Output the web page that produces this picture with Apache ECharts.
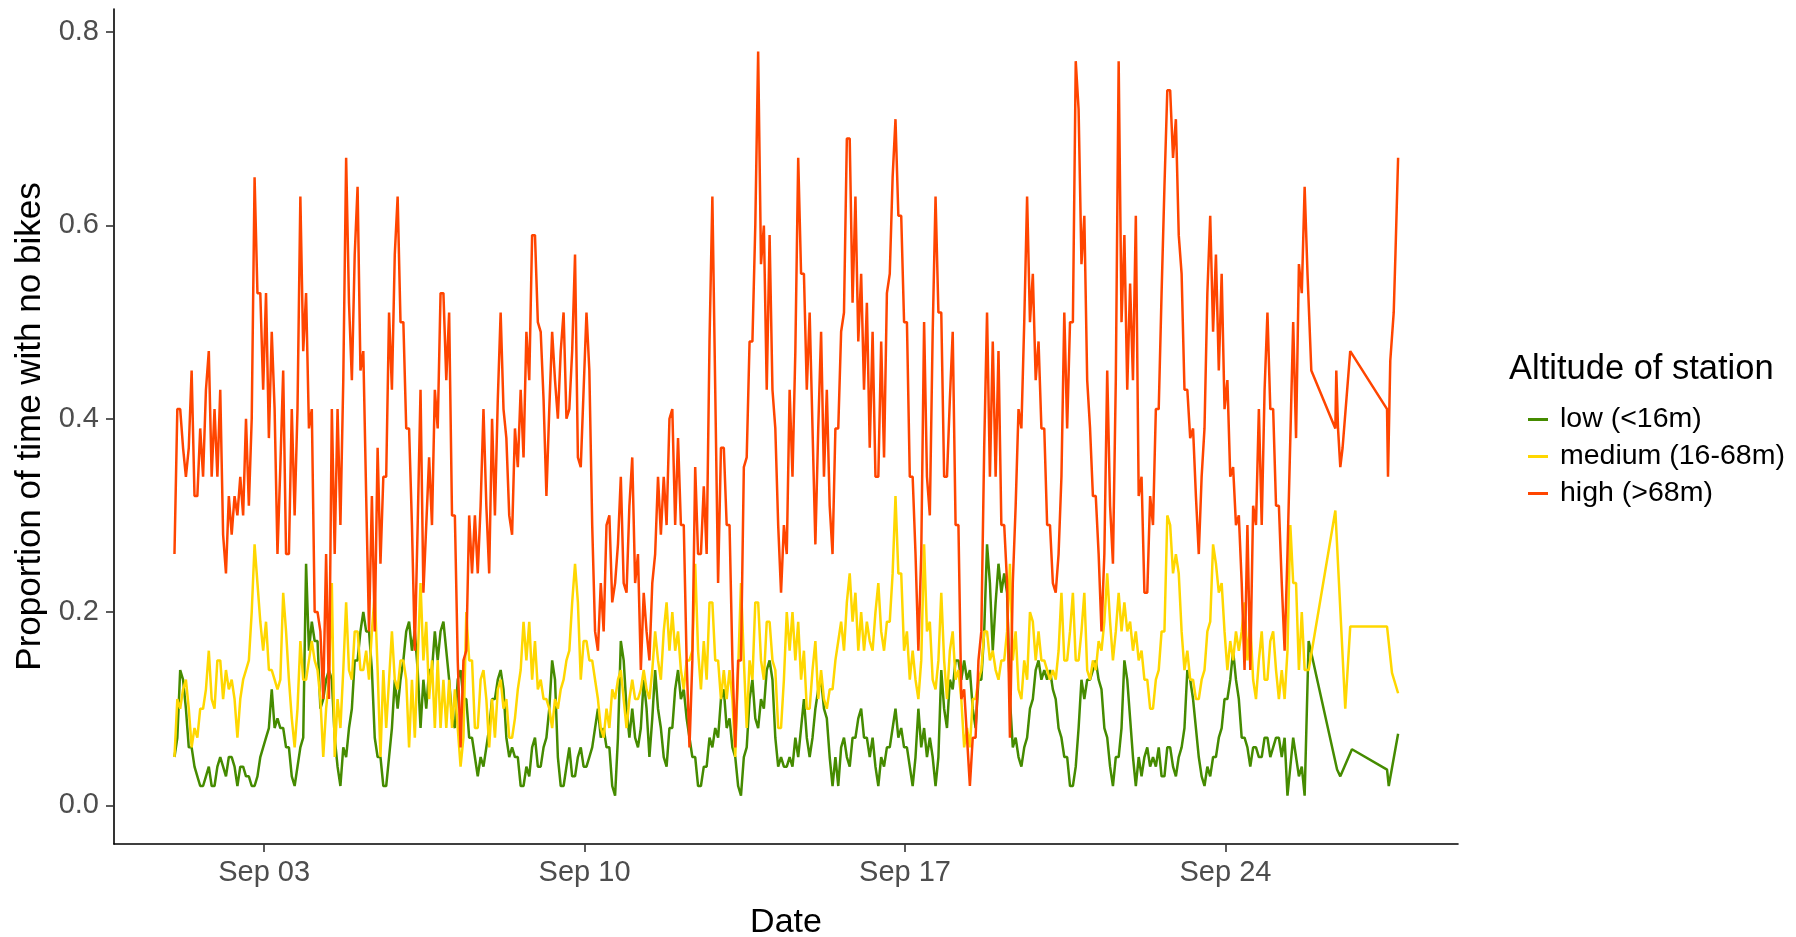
<!DOCTYPE html>
<html>
<head>
<meta charset="utf-8">
<script src="https://cdn.jsdelivr.net/npm/echarts/dist/echarts.min.js"></script>
<style>
  html, body { margin: 0; padding: 0; background: #fff; }
  #chart { width: 1796px; height: 937px; }
</style>
</head>
<body>
<div id="chart"></div>
<script>
// hours counted from Sep 01 00:00, a reading every 1.5 hours from 01:00
var startHour = 1;
var stepHours = 1.5;

var seriesNames = ["low (<16m)", "medium (16-68m)", "high (>68m)"];
var seriesColors = ["#458B00", "#FFD700", "#FF4500"];

var lowValues = [
  .05,.07, .14,.13, .10,.06, .06,.04, .03,.02, .02,.03, .04,.02, .02,.04, .05,.04, .03,.05,
  .05,.04, .02,.04, .04,.03, .03,.02, .02,.03, .05,.06, .07,.08, .12,.08, .09,.08, .08,.06,
  .06,.03, .02,.04, .06,.07, .25,.16, .19,.17, .17,.10, .11,.13, .14,.13,
  .07,.04, .02,.06, .05,.08, .10,.15, .15,.18, .20,.18, .18,.14, .07,.05, .05,.02, .02,.05,
  .08,.13, .10,.13, .15,.18, .19,.16, .18,.14, .08,.13, .10,.14, .14,.18, .15,.18, .19,.16,
  .13,.09, .08,.13, .14,.11, .11,.07, .07,.05, .03,.05, .04,.06,
  .08,.11, .11,.13, .14,.12, .07,.05, .06,.05, .05,.02, .02,.04, .03,.06, .07,.04, .04,.06,
  .07,.10, .15,.13, .05,.02, .02,.04, .06,.03, .03,.05, .06,.04, .04,.05, .06,.08, .10,.07,
  .08,.06, .06,.02, .01,.07, .17,.15, .10,.07, .10,.07, .06,.08,
  .13,.10, .05,.09, .14,.10, .08,.05, .04,.08, .08,.12, .14,.11, .12,.09, .07,.05, .05,.02,
  .02,.04, .04,.07, .06,.08, .07,.11, .12,.08, .09,.06, .05,.02, .01,.05, .06,.11, .13,.09,
  .08,.11, .10,.14, .15,.13, .07,.04, .05,.04, .04,.05, .04,.07,
  .05,.08, .11,.07, .05,.07, .10,.12, .13,.10, .09,.05, .02,.05, .02,.06, .07,.05, .04,.07,
  .07,.09, .10,.07, .07,.05, .07,.04, .02,.05, .04,.06, .06,.08, .10,.07, .08,.06, .06,.04,
  .02,.05, .10,.06, .08,.05, .07,.05, .02,.05, .14,.10, .08,.13,
  .12,.15, .15,.13, .15,.13, .14,.10, .08,.13, .13,.18, .27,.23, .16,.21, .25,.22, .24,.22,
  .11,.06, .07,.05, .04,.06, .07,.10, .11,.14, .15,.13, .14,.13, .14,.12, .11,.08, .07,.05,
  .05,.02, .02,.04, .08,.13, .11,.13, .13,.14, .15,.13, .12,.08,
  .07,.04, .02,.05, .05,.08, .15,.13, .09,.05, .02,.05, .03,.05, .06,.04, .05,.04, .06,.03,
  .03,.06, .06,.04, .03,.05, .06,.08, .14,.13, .11,.08, .05,.03, .02,.04, .03,.05, .05,.07,
  .08,.11, .11,.13, .16,.13, .11,.07, .07,.06, .04,.06, .06,.05,
  .05,.07, .07,.05, .06,.07, .07,.05, .07,.01, .04,.07, .05,.03, .04,.01
];
var mediumValues = [
  .05,.11, .10,.12, .13,.10, .06,.08, .07,.10, .10,.12, .16,.11, .10,.15, .15,.11, .14,.12,
  .13,.11, .07,.11, .13,.14, .15,.20, .27,.23, .19,.16, .19,.14, .14,.13, .12,.13, .22,.18,
  .13,.09, .06,.10, .17,.13, .13,.15, .17,.15, .14,.11, .05,.10, .13,.23,
  .05,.11, .08,.14, .21,.14, .13,.18, .18,.14, .14,.16, .13,.18, .22,.14, .05,.14, .08,.13,
  .18,.13, .12,.15, .15,.13, .06,.13, .07,.15, .23,.15, .19,.11, .15,.08, .15,.08, .13,.08,
  .13,.08, .12,.08, .04,.07, .20,.15, .15,.08, .08,.13, .14,.11,
  .06,.11, .07,.12, .13,.10, .11,.07, .07,.09, .12,.14, .19,.15, .19,.13, .17,.12, .13,.11,
  .11,.10, .08,.11, .10,.12, .13,.15, .16,.21, .25,.21, .13,.17, .17,.15, .15,.13, .11,.08,
  .07,.10, .08,.12, .11,.13, .14,.11, .08,.11, .13,.11, .11,.12,
  .14,.12, .11,.14, .18,.15, .13,.18, .21,.16, .20,.16, .18,.14, .12,.15, .15,.16, .25,.16,
  .12,.17, .13,.21, .21,.15, .15,.11, .14,.11, .14,.11, .05,.14, .23,.15, .08,.15, .13,.21,
  .21,.15, .13,.19, .19,.15, .14,.08, .08,.13, .20,.16, .20,.15,
  .19,.13, .16,.10, .10,.14, .17,.11, .14,.11, .10,.12, .12,.15, .17,.19, .16,.21, .24,.19,
  .22,.16, .20,.16, .19,.17, .16,.20, .23,.18, .16,.19, .19,.24, .32,.24, .24,.16, .18,.13,
  .16,.13, .11,.15, .27,.18, .19,.13, .12,.15, .22,.15, .11,.16,
  .18,.13, .14,.11, .06,.08, .06,.11, .11,.13, .14,.18, .18,.15, .16,.14, .13,.15, .15,.18,
  .25,.15, .18,.12, .11,.15, .13,.20, .19,.15, .18,.15, .15,.14, .13,.14, .13,.16, .22,.15,
  .15,.18, .22,.15, .15,.18, .22,.14, .13,.15, .14,.17, .16,.19,
  .24,.19, .15,.18, .22,.18, .21,.18, .19,.16, .18,.15, .16,.13, .13,.10, .10,.13, .14,.18,
  .18,.30, .29,.24, .26,.24, .18,.14, .16,.13, .13,.11, .11,.13, .14,.18, .19,.27, .25,.22,
  .23,.18, .14,.17, .15,.18, .16,.18, .21,.15, .19,.13, .11,.15,
  .18,.13, .13,.17, .18,.14, .11,.14, .11,.16, .29,.23, .23,.14, .20,.14
];
var highValues = [
  .26,.41, .41,.37, .34,.37, .45,.32, .32,.39, .34,.43, .47,.34, .41,.34, .43,.28, .24,.32,
  .28,.32, .30,.34, .30,.40, .31,.40, .65,.53, .53,.43, .53,.38, .49,.41, .26,.35, .45,.26,
  .26,.41, .30,.41, .63,.47, .53,.39, .41,.20, .20,.18, .11,.26, .11,.41,
  .26,.41, .29,.44, .67,.52, .44,.57, .64,.45, .47,.32, .18,.32, .18,.37, .25,.34, .34,.51,
  .43,.57, .63,.50, .50,.39, .39,.29, .16,.29, .43,.22, .29,.36, .29,.43, .39,.53, .53,.44,
  .51,.30, .30,.15, .06,.15, .16,.30, .24,.30, .24,.31, .41,.31,
  .24,.40, .30,.42, .51,.41, .38,.30, .28,.39, .35,.43, .36,.49, .44,.59, .59,.50, .49,.42,
  .32,.41, .49,.44, .40,.47, .51,.40, .41,.47, .57,.36, .35,.43, .51,.45, .29,.18, .16,.23,
  .18,.29, .30,.21, .23,.27, .34,.23, .22,.31, .36,.23, .26,.14,
  .22,.18, .15,.23, .26,.34, .28,.34, .29,.40, .41,.29, .38,.29, .29,.15, .06,.15, .35,.26,
  .26,.33, .26,.48, .63,.43, .23,.37, .37,.29, .29,.15, .06,.15, .15,.35, .36,.48, .48,.60,
  .78,.56, .60,.43, .59,.43, .39,.29, .22,.29, .26,.43, .34,.47,
  .67,.55, .55,.43, .51,.39, .27,.39, .49,.34, .43,.31, .26,.39, .39,.49, .51,.69, .69,.52,
  .63,.48, .55,.43, .52,.37, .49,.34, .34,.48, .36,.53, .55,.65, .71,.61, .61,.50, .50,.34,
  .34,.26, .16,.26, .50,.34, .30,.49, .63,.51, .51,.34, .34,.42,
  .49,.29, .29,.11, .12,.07, .02,.07, .07,.15, .18,.37, .51,.34, .48,.34, .47,.29, .29,.23,
  .07,.23, .31,.41, .39,.50, .63,.50, .55,.44, .48,.39, .39,.29, .29,.23, .22,.26, .34,.51,
  .39,.50, .50,.77, .72,.56, .61,.44, .39,.32, .32,.26, .18,.26,
  .45,.31, .25,.44, .77,.50, .59,.43, .54,.44, .61,.32, .34,.22, .22,.32, .29,.41, .41,.53,
  .64,.74, .74,.67, .71,.59, .55,.43, .43,.38, .39,.32, .26,.34, .39,.53, .61,.49, .57,.45,
  .55,.41, .44,.34, .35,.29, .30,.23, .14,.29, .14,.31, .29,.41,
  .29,.43, .51,.41, .41,.31, .31,.23, .16,.26, .38,.50, .38,.56, .53,.64
];

// last days are sparse: irregular readings
var lowTailHours = [595.6, 610.5, 612.2, 618.3, 636.7, 637.6, 642.5];
var lowTailValues = [0.17, 0.037, 0.03, 0.058, 0.037, 0.02, 0.074];
var mediumTailHours = [595.6, 609.6, 614.8, 617.4, 636.7, 639.3, 642.5];
var mediumTailValues = [0.14, 0.305, 0.10, 0.185, 0.185, 0.137, 0.116];
var highTailHours = [595, 597, 609.6, 610.1, 611, 612.2, 613.4, 617.4, 636.7, 637.2, 638.4, 640.2, 641.1, 642.5];
var highTailValues = [0.55, 0.45, 0.39, 0.45, 0.39, 0.35, 0.37, 0.47, 0.41, 0.34, 0.46, 0.51, 0.57, 0.67];

var xTickHours = [48, 216, 384, 552];
var yTicks = [0, 0.2, 0.4, 0.6, 0.8];

function buildData(values, tailHours, tailValues) {
  var out = [];
  for (var i = 0; i < values.length; i++) {
    out.push([startHour + i * stepHours, values[i]]);
  }
  for (var j = 0; j < tailHours.length; j++) {
    out.push([tailHours[j], tailValues[j]]);
  }
  return out;
}

var allData = [
  buildData(lowValues, lowTailHours, lowTailValues),
  buildData(mediumValues, mediumTailHours, mediumTailValues),
  buildData(highValues, highTailHours, highTailValues)
];

var font = "Liberation Sans, Arial, sans-serif";
var chart = echarts.init(document.getElementById("chart"));

chart.setOption({
  animation: false,
  backgroundColor: "#fff",
  textStyle: { fontFamily: font },
  title: {
    text: "Altitude of station",
    left: 1509,
    top: 352,
    padding: 0,
    textStyle: { fontFamily: font, fontSize: 34.5, fontWeight: "normal", color: "#000" }
  },
  legend: {
    orient: "vertical",
    left: 1528,
    top: 405,
    padding: 0,
    itemGap: 8,
    itemWidth: 20,
    itemHeight: 3,
    icon: "rect",
    data: seriesNames,
    textStyle: { fontFamily: font, fontSize: 28.5, lineHeight: 28, color: "#000", padding: [0, 0, 0, 7] }
  },
  grid: { left: 114, right: 338, top: 9, bottom: 93, containLabel: false, outerBoundsMode: "none" },
  xAxis: {
    type: "value",
    min: -30.7,
    max: 673.9,
    name: "Date",
    nameLocation: "middle",
    nameGap: 62,
    nameTextStyle: { fontFamily: font, fontSize: 34, color: "#000" },
    splitLine: { show: false },
    axisLine: { show: true, onZero: false, lineStyle: { color: "#000", width: 1.6 } },
    axisTick: { show: true, length: 8, customValues: xTickHours, lineStyle: { color: "#333", width: 1.6 } },
    axisLabel: {
      customValues: xTickHours,
      margin: 14,
      fontFamily: font,
      fontSize: 29,
      color: "#4D4D4D",
      formatter: function (v) {
        var d = Math.round(v / 24) + 1;
        return "Sep " + (d < 10 ? "0" + d : d);
      }
    }
  },
  yAxis: {
    type: "value",
    min: -0.04,
    max: 0.824,
    name: "Proportion of time with no bikes",
    nameLocation: "middle",
    nameGap: 62,
    nameTextStyle: { fontFamily: font, fontSize: 35, color: "#000" },
    splitLine: { show: false },
    axisLine: { show: true, onZero: false, lineStyle: { color: "#000", width: 1.6 } },
    axisTick: { show: true, length: 8, customValues: yTicks, lineStyle: { color: "#333", width: 1.6 } },
    axisLabel: {
      customValues: yTicks,
      margin: 15,
      fontFamily: font,
      fontSize: 29,
      color: "#4D4D4D",
      formatter: function (v) { return v.toFixed(1); }
    }
  },
  series: seriesNames.map(function (name, k) {
    return {
      name: name,
      type: "line",
      data: allData[k],
      showSymbol: false,
      symbol: "none",
      color: seriesColors[k],
      lineStyle: { color: seriesColors[k], width: 2.5 },
      z: 2 + k
    };
  })
});
</script>
</body>
</html>
